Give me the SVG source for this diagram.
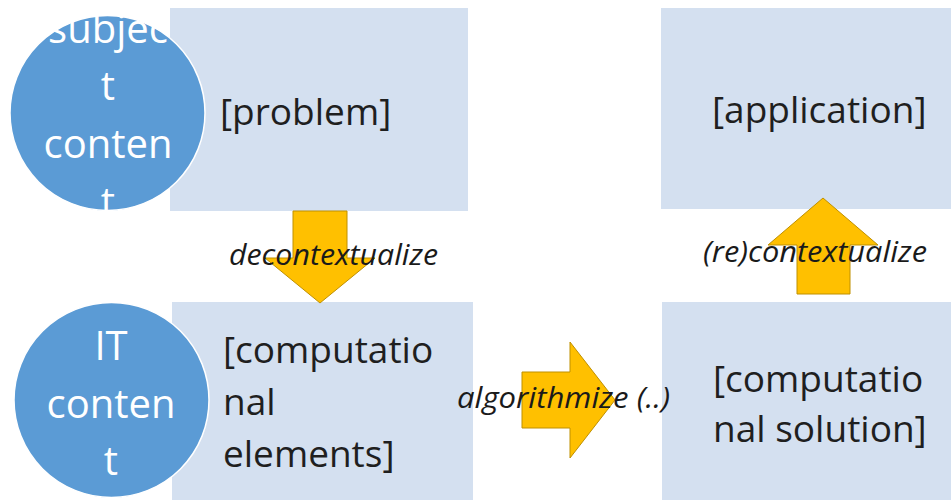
<svg xmlns="http://www.w3.org/2000/svg" width="951" height="500" viewBox="0 0 951 500">
<style>
.box{fill:#D4E0F0}
.circ{fill:#5B9BD5;stroke:#FFFFFF;stroke-width:1.5}
.ctext{font-family:"Open Sans","Noto Sans",sans-serif;font-size:40px;fill:#FFFFFF;text-anchor:middle}
.btext{font-family:"Open Sans","Noto Sans",sans-serif;font-size:37px;fill:#1F1F1F}
.arrow{fill:#FFC000;stroke:#BF9000;stroke-width:1}
.lbl{font-family:"Open Sans","Noto Sans",sans-serif;font-size:30px;font-style:italic;fill:#1A1A1A}
</style>
<rect width="951" height="500" fill="#FFFFFF"/>
<g id="problem">
<rect class="box" x="170" y="8" width="298" height="203"/>
<text class="btext" x="220" y="125">[problem]</text>
</g>
<g id="subject-content">
<circle class="circ" cx="107.5" cy="113" r="97.5"/>
<text class="ctext" x="108"><tspan x="108" y="43">subjec</tspan><tspan x="108" y="100">t</tspan><tspan x="108" y="158">conten</tspan><tspan x="108" y="216">t</tspan></text>
</g>
<g id="application">
<rect class="box" x="661" y="8" width="298" height="201"/>
<text class="btext" x="712" y="123">[application]</text>
</g>
<g id="computational-elements">
<rect class="box" x="172" y="302" width="301" height="200"/>
<text class="btext"><tspan x="223" y="363">[computatio</tspan><tspan x="223" y="415">nal</tspan><tspan x="223" y="467">elements]</tspan></text>
</g>
<g id="it-content">
<circle class="circ" cx="111.5" cy="400" r="97.5"/>
<text class="ctext"><tspan x="111" y="360">IT</tspan><tspan x="111" y="418">conten</tspan><tspan x="111" y="475">t</tspan></text>
</g>
<g id="computational-solution">
<rect class="box" x="662" y="302" width="298" height="200"/>
<text class="btext"><tspan x="713" y="392">[computatio</tspan><tspan x="713" y="442">nal solution]</tspan></text>
</g>
<g id="connectors">
<polygon class="arrow" points="293,211 347,211 347,258 375,258 320,303 265,258 293,258"/>
<polygon class="arrow" points="797,294 850,294 850,245 878,245 823,198 768,245 797,245"/>
<polygon class="arrow" points="522,372 570,372 570,342 615,400 570,458 570,428 522,428"/>
<text class="lbl" x="229" y="265" textLength="209" lengthAdjust="spacingAndGlyphs">decontextualize</text>
<text class="lbl" x="703" y="262" textLength="224" lengthAdjust="spacingAndGlyphs">(re)contextualize</text>
<text class="lbl" x="457" y="408" textLength="213" lengthAdjust="spacingAndGlyphs">algorithmize (..)</text>
</g>
</svg>
